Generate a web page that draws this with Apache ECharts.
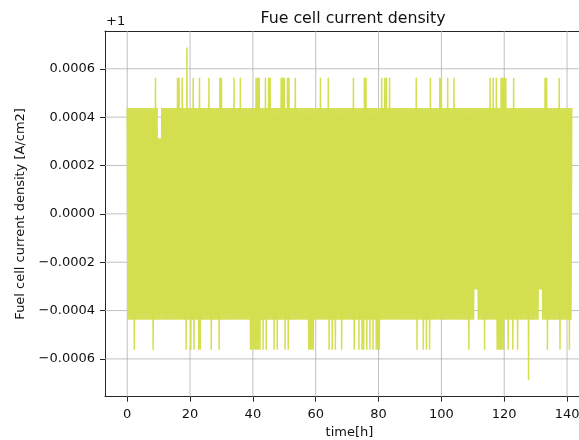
<!DOCTYPE html>
<html>
<head>
<meta charset="utf-8">
<script src="https://cdn.jsdelivr.net/npm/echarts@6/dist/echarts.min.js"></script>
<style>
html,body{margin:0;padding:0;background:#fff;}
#chart{width:579px;height:440px;}
</style>
</head>
<body>
<div id="chart"></div>
<script>
// Fuel cell current density, plotted as offset from 1 (matplotlib "+1" offset).
// Readings are quantised: values given in counts of LSB A/cm2 above 1.
const LSB = 0.0000625;
// Sampling: one reading every DT hours starting at T0
const T0 = 0;
const DT = 0.25;
const counts = [
  7,-7,7,-7,7,-7,7,-7,7,-9,7,-7,7,-7,7,-7,7,-7,7,-7,
  7,-7,7,-7,7,-7,7,-7,7,-7,7,-7,7,-9,7,-7,9,-7,7,-7,
  5,-7,5,-7,7,-7,7,-7,7,-7,7,-7,7,-7,7,-7,7,-7,7,-7,
  7,-7,7,-7,9,-7,9,-7,7,-7,9,-7,7,-7,7,-9,11,-7,7,-7,
  7,-9,7,-7,9,-9,7,-7,7,-7,7,-9,9,-9,7,-7,7,-7,7,-7,
  7,-7,7,-7,9,-7,7,-9,7,-7,7,-7,7,-7,7,-7,7,-9,9,-7,
  9,-7,7,-7,7,-7,7,-7,7,-7,7,-7,7,-7,7,-7,9,-7,7,-7,
  7,-7,7,-7,9,-7,7,-7,7,-7,7,-7,7,-7,7,-7,7,-9,7,-9,
  7,-9,7,-9,9,-9,9,-9,9,-9,7,-7,7,-9,7,-7,9,-9,7,-7,
  9,-7,9,-7,7,-7,7,-9,7,-7,7,-9,7,-7,7,-7,9,-7,9,-7,
  9,-9,7,-7,9,-9,9,-7,7,-7,7,-7,7,-7,9,-7,7,-7,7,-7,
  7,-7,7,-7,7,-7,7,-7,7,-7,7,-9,7,-9,7,-9,7,-9,7,-7,
  7,-7,7,-7,7,-7,9,-7,7,-7,7,-7,7,-7,7,-7,9,-9,7,-7,
  7,-9,7,-7,7,-9,7,-7,7,-7,7,-7,7,-9,7,-7,7,-7,7,-7,
  7,-7,7,-7,7,-7,7,-7,9,-9,7,-7,7,-7,7,-9,7,-7,7,-9,
  7,-9,9,-7,9,-9,7,-7,7,-9,7,-7,7,-9,7,-7,7,-9,7,-9,
  7,-9,7,-7,9,-7,7,-7,9,-7,9,-7,7,-7,9,-7,7,-7,7,-7,
  7,-7,7,-7,7,-7,7,-7,7,-7,7,-7,7,-7,7,-7,7,-7,7,-7,
  7,-7,7,-7,7,-7,7,-7,9,-9,7,-7,7,-7,7,-7,7,-9,7,-7,
  7,-9,7,-7,7,-9,9,-7,7,-7,7,-7,7,-7,7,-7,7,-7,9,-7,
  9,-7,7,-7,7,-7,7,-7,9,-7,7,-7,7,-7,7,-7,9,-7,7,-7,
  7,-7,7,-7,7,-7,7,-7,7,-7,7,-7,7,-7,7,-9,7,-7,7,-7,
  7,-7,7,-5,7,-5,7,-7,7,-7,7,-7,7,-7,7,-9,7,-7,7,-7,
  7,-7,9,-7,7,-7,9,-7,7,-7,9,-9,7,-9,7,-9,9,-9,9,-9,
  9,-7,9,-7,7,-9,7,-7,7,-7,7,-9,9,-7,7,-7,7,-9,7,-7,
  7,-7,7,-7,7,-7,7,-7,7,-7,7,-11,7,-7,7,-7,7,-7,7,-7,
  7,-7,7,-7,7,-5,7,-5,7,-7,7,-7,9,-7,9,-9,7,-7,7,-7,
  7,-7,7,-7,7,-7,7,-7,7,-7,9,-9,7,-7,7,-7,7,-7,7,-7,
  7,-7,7,-9,7,-7,7
];
const xTicks = [0, 20, 40, 60, 80, 100, 120, 140];
const yTicks = [-0.0006, -0.0004, -0.0002, 0, 0.0002, 0.0004, 0.0006];
const titleText = 'Fue cell current density';
const xName = 'time[h]';
const yName = 'Fuel cell current density [A/cm2]';
const offsetText = '+1';

const X_MIN = -7.075, X_MAX = 148.575;
const Y_MIN = -0.00075625, Y_MAX = 0.00075625;

const seriesData = counts.map((c, i) => [T0 + i * DT, c * LSB]);

const FONT = 'DejaVu Sans';
const TXT = '#111';
const SPINE = '#262626';
const GRIDC = '#b0b0b0';
const fmtY = v => {
  if (Math.abs(v) < 1e-12) return '0.0000';
  return (v < 0 ? '\u2212' : '') + Math.abs(v).toFixed(4);
};

function gridSeries(points) {
  return {
    type: 'line',
    xAxisIndex: 0,
    yAxisIndex: 0,
    data: points,
    z: 8,
    silent: true,
    showSymbol: false,
    symbol: 'none',
    clip: false,
    lineStyle: {color: GRIDC, width: 0.8, opacity: 1},
    emphasis: {disabled: true},
    tooltip: {show: false}
  };
}
const gridLines = xTicks.map(v => gridSeries([[v, Y_MIN], [v, Y_MAX]]))
  .concat(yTicks.map(v => gridSeries([[X_MIN, v], [X_MAX, v]])));

const chart = echarts.init(document.getElementById('chart'), null, {renderer: 'canvas'});
chart.setOption({
  animation: false,
  backgroundColor: '#fff',
  title: {
    text: titleText,
    left: 348,
    top: 6,
    textAlign: 'center',
    textStyle: {fontFamily: FONT, fontSize: 15.8, fontWeight: 'normal', color: TXT}
  },
  graphic: [{
    type: 'text',
    left: 106,
    top: 15,
    style: {text: offsetText, font: '13px "DejaVu Sans"', fill: TXT}
  }],
  grid: {
    left: 105, right: -15, top: 31, bottom: 43.3,
    outerBoundsMode: 'none',
    show: false,
    containLabel: false
  },
  xAxis: [{
    type: 'value',
    min: X_MIN, max: X_MAX,
    name: xName, nameLocation: 'middle', nameGap: 29,
    nameTextStyle: {fontFamily: FONT, fontSize: 13, color: TXT},
    axisLine: {show: true, onZero: false, lineStyle: {color: SPINE, width: 1}},
    axisTick: {show: true, customValues: xTicks, length: 5, lineStyle: {color: SPINE, width: 1}},
    axisLabel: {customValues: xTicks, margin: 11, fontFamily: FONT, fontSize: 13, color: TXT},
    splitLine: {show: false}
  }, {
    type: 'value',
    position: 'top',
    min: X_MIN, max: X_MAX,
    axisLine: {show: true, onZero: false, lineStyle: {color: SPINE, width: 1}},
    axisTick: {show: false},
    axisLabel: {show: false},
    splitLine: {show: false}
  }],
  yAxis: {
    type: 'value',
    min: Y_MIN, max: Y_MAX,
    name: yName, nameLocation: 'middle', nameGap: 78, nameRotate: 90,
    nameTextStyle: {fontFamily: FONT, fontSize: 13, color: TXT},
    axisLine: {show: true, onZero: false, lineStyle: {color: SPINE, width: 1}},
    axisTick: {show: true, customValues: yTicks, length: 5, lineStyle: {color: SPINE, width: 1}},
    axisLabel: {customValues: yTicks, margin: 10, fontFamily: FONT, fontSize: 13, color: TXT, formatter: fmtY},
    splitLine: {show: false}
  },
  series: gridLines.concat([
    {
      type: 'line',
      xAxisIndex: 0,
      yAxisIndex: 0,
      data: seriesData,
      z: 10,
      showSymbol: false,
      symbol: 'none',
      sampling: false,
      lineStyle: {color: '#d4df50', width: 1.5},
      itemStyle: {color: '#d4df50'},
      emphasis: {disabled: true},
      silent: true
    }
  ])
});
</script>
</body>
</html>
